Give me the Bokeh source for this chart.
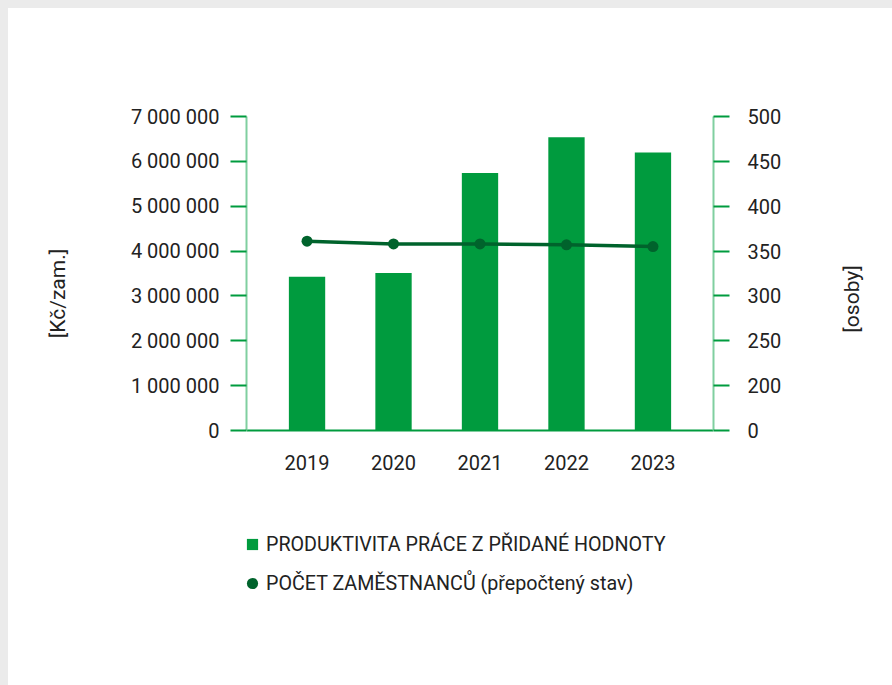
import math
from bokeh.plotting import figure
from bokeh.layouts import column
from bokeh.models import (Range1d, LinearAxis, FixedTicker, Legend, LegendItem,
                          ColumnDataSource)
from bokeh.embed import file_html
from bokeh.resources import INLINE

years = ["2019", "2020", "2021", "2022", "2023"]
productivity = [3430000, 3510000, 5740000, 6540000, 6200000]
employees = [361, 358, 358, 357, 355]
left_ticks = [0, 1000000, 2000000, 3000000, 4000000, 5000000, 6000000, 7000000]
right_ticks = [150, 200, 250, 300, 350, 400, 450, 500]
right_tick_labels = ["0", "200", "250", "300", "350", "400", "450", "500"]
bar_label = "PRODUKTIVITA PRÁCE Z PŘIDANÉ HODNOTY"
line_label = "POČET ZAMĚSTNANCŮ (přepočtený stav)"
left_title = "[Kč/zam.]"
right_title = "[osoby]"

FONT = "Roboto"
TXT = "#222222"
GREEN = "#009b3e"
DARK = "#00632c"
AXIS_LIGHT = "#80cfa0"

# the frame is extended below the zero line so the axis titles sit lower,
# as in the original; axes are bounded to their tick range
EXT = 40 / 314  # extra frame height below zero, as a fraction of the tick span
lspan = left_ticks[-1] - left_ticks[0]
rspan = right_ticks[-1] - right_ticks[0]
RIGHT_TITLE_POS = 259  # where the right title starts, in right-axis units

xs = list(range(len(years)))
src = ColumnDataSource(dict(x=xs, prod=productivity, emp=employees))

p = figure(width=884, height=520, output_backend="svg", toolbar_location=None,
           x_range=Range1d(-0.7, len(years) - 1 + 0.7),
           y_range=Range1d(left_ticks[0] - EXT * lspan, left_ticks[-1]),
           min_border_left=238, min_border_right=179, min_border_top=108,
           min_border_bottom=58)
p.extra_y_ranges = {"right": Range1d(right_ticks[0] - EXT * rspan, right_ticks[-1])}

p.outline_line_color = None
p.background_fill_color = "white"
p.border_fill_color = "white"
p.xgrid.visible = False
p.ygrid.visible = False

bars = p.vbar(x="x", top="prod", bottom=0, width=0.42, source=src, fill_color=GREEN,
              line_color=None)
line = p.line(x="x", y="emp", source=src, line_color=DARK, line_width=3.5, y_range_name="right")
dots = p.scatter(x="x", y="emp", source=src, size=11, fill_color=DARK, line_color=None,
                 y_range_name="right")

def style_labels(ax, standoff, size="20px"):
    ax.major_label_text_font = FONT
    ax.major_label_text_font_size = size
    ax.major_label_text_color = TXT
    ax.major_label_standoff = standoff

def no_ticks(ax):
    ax.major_tick_in = 0
    ax.minor_tick_out = 0
    ax.minor_tick_in = 0

def style_title(ax, text, standoff):
    ax.axis_label = text
    ax.axis_label_text_font = FONT
    ax.axis_label_text_font_size = "21px"
    ax.axis_label_text_font_style = "normal"
    ax.axis_label_text_color = TXT
    ax.axis_label_standoff = standoff

# x axis, fixed at the zero line
xa = p.xaxis[0]
xa.fixed_location = left_ticks[0]
xa.ticker = FixedTicker(ticks=xs)
xa.major_label_overrides = {i: y for i, y in enumerate(years)}
no_ticks(xa)
xa.major_tick_out = 0
xa.axis_line_color = GREEN
xa.axis_line_width = 2
style_labels(xa, 24)

# left axis
ya = p.yaxis[0]
ya.bounds = (left_ticks[0], left_ticks[-1])
ya.ticker = FixedTicker(ticks=left_ticks)
ya.major_label_overrides = {v: f"{v:,}".replace(",", " ") for v in left_ticks}
no_ticks(ya)
ya.major_tick_out = 16
ya.major_tick_line_color = GREEN
ya.major_tick_line_width = 2
ya.axis_line_color = AXIS_LIGHT
ya.axis_line_width = 2
style_labels(ya, 11)
style_title(ya, left_title, 58)

# right axis
ra = LinearAxis(y_range_name="right", bounds=(right_ticks[0], right_ticks[-1]))
ra.ticker = FixedTicker(ticks=right_ticks)
ra.major_label_overrides = dict(zip(right_ticks, right_tick_labels))
no_ticks(ra)
ra.major_tick_out = 16
ra.major_tick_line_color = GREEN
ra.major_tick_line_width = 2
ra.axis_line_color = AXIS_LIGHT
ra.axis_line_width = 2
style_labels(ra, 18)
p.add_layout(ra, "right")

# right title: a tick-less axis with one label, rotated to read bottom-to-top
rt = LinearAxis(y_range_name="right", ticker=FixedTicker(ticks=[RIGHT_TITLE_POS]))
rt.major_label_overrides = {RIGHT_TITLE_POS: right_title}
no_ticks(rt)
rt.major_tick_out = 0
rt.axis_line_color = None
rt.major_label_orientation = math.pi / 2
style_labels(rt, 68, "21px")
p.add_layout(rt, "right")

# legend panel (separate figure below the chart)
q = figure(width=884, height=157, output_backend="svg", toolbar_location=None,
           x_axis_type=None, y_axis_type=None, x_range=Range1d(-1, len(years)),
           y_range=Range1d(0, 1), min_border=0)
q.outline_line_color = None
q.border_fill_color = "white"
q.background_fill_color = "white"
q.xgrid.visible = False
q.ygrid.visible = False
sw_bar = q.scatter(x="x", y="prod", source=src, marker="square", fill_color=GREEN,
                   line_color=None, visible=False)
sw_dot = q.scatter(x="x", y="emp", source=src, marker="circle", fill_color=DARK,
                   line_color=None, visible=False)
legend = Legend(items=[LegendItem(label=bar_label, renderers=[sw_bar]),
                       LegendItem(label=line_label, renderers=[sw_dot])],
                location=(-8, 88), glyph_width=28, glyph_height=28, label_standoff=0,
                spacing=11, padding=0, margin=0, border_line_color=None,
                background_fill_alpha=0, label_text_font=FONT,
                label_text_font_size="19.7px", label_text_color=TXT)
q.add_layout(legend, "center")

layout = column(p, q, spacing=0)

html = file_html(layout, INLINE)
css = ("<style>html{background:#ffffff !important;}"
       "body{background:#ffffff !important;padding:0 !important;"
       "border-top:8px solid #ebebeb !important;border-left:8px solid #ebebeb !important;}</style>")
html = html.replace("</head>", css + "</head>", 1)
open("out.html", "w").write(html)
